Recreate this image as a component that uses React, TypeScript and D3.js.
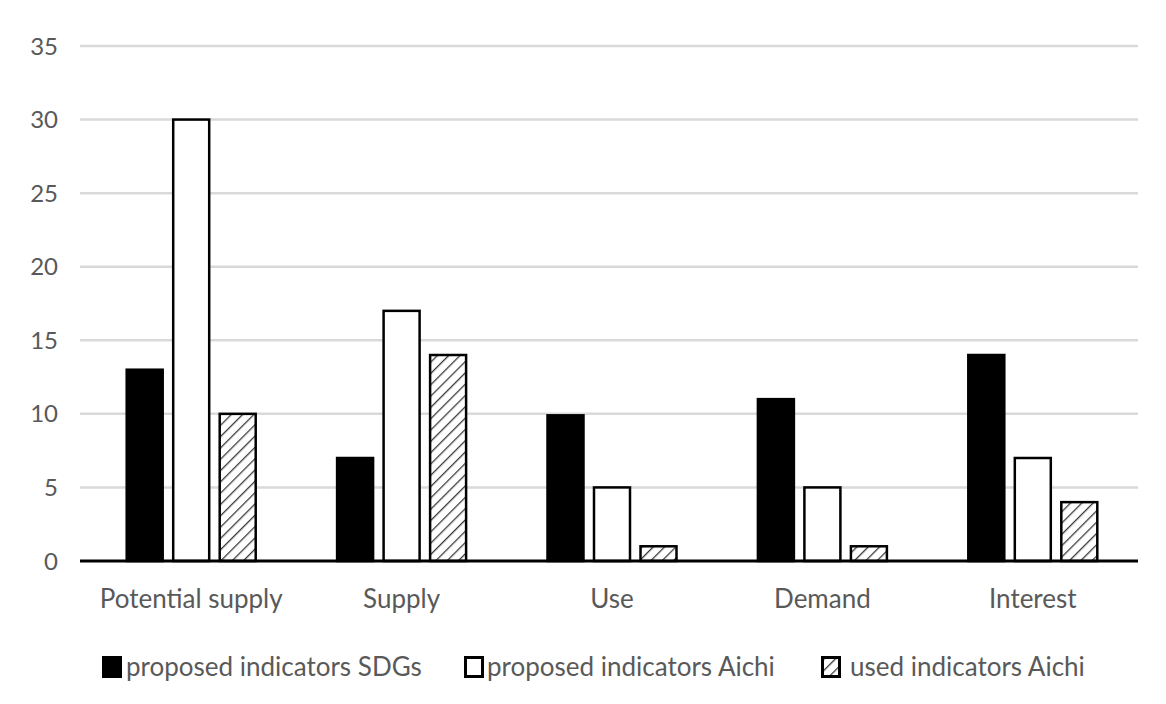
import React from "react";
import * as d3 from "d3";

const categories = ["Potential supply", "Supply", "Use", "Demand", "Interest"];
const seriesNames = ["proposed indicators SDGs", "proposed indicators Aichi", "used indicators Aichi"];
const sdgs = [13, 7, 9.9, 11, 14];
const aichiProposed = [30, 17, 5, 5, 7];
const aichiUsed = [10, 14, 1, 1, 4];
const yTicks = [0, 5, 10, 15, 20, 25, 30, 35];

const W = 1166;
const H = 704;
const M = { left: 86, right: 1138, top: 46, bottom: 561 };

export default function App() {
  const x = d3.scaleBand<string>().domain(categories).range([M.left, M.right]).padding(0);
  const inner = d3.scaleBand<number>().domain([0, 1, 2]).range([0, 129]).paddingInner(0.226).paddingOuter(0);
  const y = d3.scaleLinear().domain([0, 35]).range([M.bottom, M.top]);
  const series = [sdgs, aichiProposed, aichiUsed];
  const fills = ["#000", "#fff", "url(#hatch)"];
  const font = "Lato, 'Open Sans', sans-serif";
  const textColor = "#595959";
  const legendX = [102, 464, 821];
  const legendTextX = [126, 487, 850];

  return (
    <svg width={W} height={H} style={{ position: "absolute", left: 0, top: 0, background: "#fff" }}>
      <defs>
        <pattern id="hatch" patternUnits="userSpaceOnUse" width={8} height={8} patternTransform="rotate(45)">
          <rect width={8} height={8} fill="#fff" />
          <line x1={0} y1={0} x2={0} y2={8} stroke="#3a3a3a" strokeWidth={2.6} />
        </pattern>
      </defs>
      {yTicks.map((t) => (
        <g key={t}>
          {t > 0 && (
            <line x1={80} x2={M.right} y1={y(t)} y2={y(t)} stroke="#d9d9d9" strokeWidth={2.5} />
          )}
          <text x={58} y={y(t)} dy="0.36em" textAnchor="end" fontFamily={font} fontSize={24} fill={textColor}>
            {t}
          </text>
        </g>
      ))}
      {categories.map((c, i) => {
        const cx = (x(c) as number) + x.bandwidth() / 2;
        const gx = cx - 64.5;
        return (
          <g key={c}>
            {series.map((s, j) => (
              <rect
                key={j}
                x={gx + (inner(j) as number)}
                y={y(s[i])}
                width={inner.bandwidth()}
                height={y(0) - y(s[i])}
                fill={fills[j]}
                stroke="#000"
                strokeWidth={2.5}
              />
            ))}
            <text x={cx} y={608} textAnchor="middle" fontFamily={font} fontSize={26} fill={textColor}>
              {c}
            </text>
          </g>
        );
      })}
      <line x1={80} x2={M.right} y1={y(0)} y2={y(0)} stroke="#000" strokeWidth={3} />
      {seriesNames.map((n, j) => (
        <g key={n}>
          <rect
            x={legendX[j] + 1.5}
            y={657.5}
            width={17}
            height={19}
            fill={fills[j]}
            stroke="#000"
            strokeWidth={3}
          />
          <text x={legendTextX[j]} y={676} fontFamily={font} fontSize={26} fill={textColor}>
            {n}
          </text>
        </g>
      ))}
    </svg>
  );
}
